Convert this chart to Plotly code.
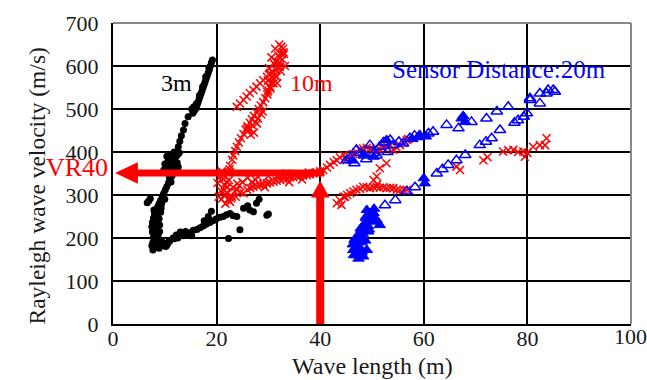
import plotly.graph_objects as go

# ---- data ----
# Sensor distance 3 m (black filled circles)
x3 = [19.2, 19.0, 18.8, 18.6, 18.4, 18.2, 18.0, 17.8, 17.6, 17.4, 17.2, 17.0, 16.8, 16.6,
      16.4, 16.2, 16.0, 15.8, 15.6, 15.4, 15.2, 18.5, 17.9, 17.3, 16.7, 16.1, 15.6,
      14.5, 13.9, 13.6, 13.2, 12.9, 12.6,
      12.8, 12.5, 12.2, 11.9, 11.6, 11.3, 11.0, 10.7, 10.4, 10.1, 9.8, 12.4, 12.0, 11.6,
      11.2, 10.8, 10.4, 10.0, 11.8, 11.4, 11.0, 10.6, 12.6, 12.2,
      11.0, 10.7, 10.4, 10.1, 9.8, 9.5, 9.2, 8.9, 8.6, 8.3, 8.0, 7.8, 7.6, 7.5, 7.6, 7.8,
      7.7, 7.5, 7.7, 8.0, 8.4, 10.0, 9.7, 9.4, 9.2, 8.9, 9.0, 8.6, 7.2, 6.9, 6.6, 8.2,
      8.5, 8.3, 8.0, 8.7, 9.0, 8.8, 8.1, 9.3, 7.9, 8.4, 11.4, 11.2, 10.9,
      8.4, 8.9, 9.4, 10.0, 10.6, 11.0, 11.6, 12.2, 12.9, 13.5, 14.2, 14.9, 15.5, 16.2, 16.8,
      17.4, 18.0, 18.7, 19.3, 19.9, 20.7, 21.3, 21.9, 22.6, 23.2, 23.9, 9.6, 10.4, 11.8, 13.0,
      17.6, 18.4, 19.0, 8.8, 9.2, 10.2, 10.8, 12.5, 14.0, 15.2,
      25.2, 26.4, 27.1, 27.7, 29.7, 30.0, 24.5, 22.3, 26.0, 28.2]
y3 = [614, 608, 600, 592, 585, 578, 571, 564, 557, 550, 543, 536, 529, 522,
      515, 508, 502, 498, 494, 490, 500, 596, 575, 552, 532, 512, 505,
      482, 466, 451, 438, 425, 412,
      398, 394, 390, 386, 382, 378, 374, 370, 366, 362, 358, 375, 368, 361,
      355, 382, 390, 372, 400, 395, 385, 378, 365, 358,
      335, 328, 320, 312, 304, 296, 288, 280, 272, 264, 256, 246, 236, 226, 214, 202,
      190, 182, 172, 178, 185, 290, 300, 280, 260, 245, 230, 250, 292, 286, 282, 240,
      225, 210, 198, 205, 215, 195, 186, 270, 265, 190, 345, 330, 340,
      180, 176, 182, 186, 188, 194, 200, 207, 210, 205, 209, 212, 218, 220, 224,
      228, 232, 236, 240, 244, 248, 250, 254, 257, 252, 250, 190, 184, 198, 214,
      240, 250, 262, 178, 188, 180, 192, 200, 215, 205,
      269, 265, 261, 281, 253, 256, 219, 199, 275, 290]

# Sensor distance 10 m (red crosses)
x10 = [21.5, 21.9, 22.3, 22.6, 23.0, 23.2, 23.6, 23.9, 24.3, 24.7, 25.2, 25.6, 26.0, 26.4,
       26.8, 27.2, 27.7, 28.1, 28.5, 29.0, 29.4, 29.8, 30.0, 30.3, 30.6, 30.9, 31.2, 31.5,
       31.8, 32.0, 32.3, 32.6, 32.8, 31.0, 31.6, 32.2, 30.4, 30.8, 31.4, 32.5, 29.9, 31.9,
       32.9, 30.1, 31.1, 30.6, 31.3, 32.1, 32.7, 33.2, 30.2, 31.7, 32.4, 33.0, 29.8,
       26.2, 26.9, 27.5, 28.0, 27.2, 26.6, 28.6, 25.9, 27.8, 28.9,
       23.9, 24.5, 25.2, 25.8, 26.4, 27.1, 27.7, 28.4, 29.0, 29.7, 30.3,
       20.2, 20.5, 21.0, 21.4, 21.8, 22.2, 22.6, 23.0, 20.8, 21.6, 22.4, 23.2, 21.2, 22.0,
       22.8, 20.4, 21.7, 23.5, 24.0, 22.5, 20.9, 21.3, 22.1, 23.7,
       23.9, 24.6, 25.2, 25.9, 26.5, 27.1, 27.8, 28.4, 29.0, 29.7, 30.3, 31.0, 31.6, 32.3,
       32.9, 33.6, 34.2, 34.8, 35.5, 36.1, 36.7, 37.4, 38.0, 38.7, 39.3, 40.0, 40.6, 41.3,
       41.9, 42.6, 43.2, 43.8, 44.5, 26.0, 28.0, 30.0, 33.5, 36.5, 25.0, 27.5, 35.0,
       24.4, 26.8, 29.3, 31.8, 34.0, 37.8,
       45.1, 45.8, 46.4, 47.0, 47.7, 48.3, 49.0, 49.6, 50.3, 50.9, 51.5, 52.2, 52.8, 53.5,
       54.1, 54.8, 55.4, 56.1, 56.7, 57.0, 51.5, 52.8, 50.9, 50.3, 43.8, 44.8,
       43.2, 44.1, 44.5, 45.2, 45.8, 46.4, 47.0, 47.7, 48.3, 49.0, 49.6, 50.3, 50.9, 51.5,
       52.2, 52.8, 53.5, 54.1, 54.8, 55.4, 56.1, 56.7, 51.0,
       66.3, 67.0, 71.5, 72.3, 75.3, 76.3, 77.3, 78.2, 79.2, 79.5, 80.0, 81.1, 82.4, 83.4, 83.7]
y10 = [300, 330, 352, 368, 382, 392, 402, 412, 422, 432, 442, 452, 460, 468,
       476, 484, 492, 500, 508, 516, 525, 534, 543, 552, 561, 570, 580, 590,
       600, 608, 618, 628, 640, 560, 575, 598, 548, 585, 612, 645, 566, 625,
       632, 595, 605, 620, 640, 650, 615, 600, 580, 560, 588, 628, 540,
       450, 462, 470, 478, 445, 440, 488, 456, 466, 494,
       505, 513, 521, 529, 537, 544, 552, 560, 567, 575, 583,
       328, 340, 355, 312, 300, 290, 284, 296, 310, 322, 335, 318, 346, 305,
       292, 296, 280, 308, 326, 360, 290, 338, 318, 296,
       312, 306, 304, 312, 316, 319, 321, 323, 325, 327, 329, 331, 333, 335,
       337, 339, 341, 342, 343, 344, 345, 346, 348, 350, 352, 355, 358, 364,
       370, 376, 381, 387, 393, 340, 342, 344, 350, 336, 330, 336, 348,
       322, 330, 318, 345, 330, 352,
       381, 389, 395, 400, 405, 408, 410, 408, 405, 404, 406, 410, 414, 416,
       405, 410, 416, 422, 428, 430, 362, 374, 343, 335, 288, 296,
       281, 277, 296, 300, 304, 308, 312, 314, 319, 318, 316, 318, 319, 317,
       318, 316, 317, 316, 312, 311, 312, 312, 325,
       366, 358, 381, 388, 401, 404, 405, 400, 401, 389, 398, 412, 416, 416, 432]

# Sensor distance 20 m (blue open triangles)
x20o = [52.5, 54.5, 56.7, 58.3, 62.5, 63.6, 64.7, 66.3, 68.0, 70.8, 72.0, 73.1, 74.7,
        77.5, 78.2, 79.3, 79.9, 80.5, 82.4, 83.7, 85.0,
        45.1, 45.8, 47.0, 47.7, 48.5, 49.6, 50.3, 51.5, 52.2, 53.5, 54.1, 55.2, 57.3,
        59.0, 60.9, 61.8, 64.4, 66.7, 69.2, 72.1, 74.1, 76.3, 80.5, 82.4, 84.0, 85.3,
        46.6, 48.9, 50.9, 53.0, 56.0, 58.2]
y20o = [276, 288, 308, 318, 350, 360, 370, 381, 393, 416, 424, 432, 451,
        468, 474, 482, 490, 521, 513, 536, 544,
        381, 386, 405, 398, 392, 416, 397, 412, 422, 428, 416, 424, 432,
        435, 443, 447, 463, 455, 470, 478, 494, 505, 525, 536, 544, 540,
        374, 383, 392, 400, 420, 438]
# Sensor distance 20 m (blue filled triangles)
x20f = [49.0, 49.9, 50.9, 48.6, 49.3, 48.0, 46.7, 46.4, 47.0, 48.3, 49.0, 50.3, 51.5,
        47.5, 48.0, 46.9, 47.8, 48.8, 47.2, 46.8, 49.6, 48.2, 50.4, 49.5, 48.9, 50.0,
        48.5, 49.2, 47.6, 46.6, 47.3, 48.0, 48.7, 46.3, 47.0, 47.9, 49.4, 47.4, 46.5,
        60.2, 60.0, 67.3, 68.0, 67.6, 50.3, 52.8, 57.8, 59.2, 60.4, 46.2, 48.4]
y20f = [265, 253, 242, 234, 215, 203, 188, 172, 160, 157, 172, 258, 230,
        180, 168, 198, 222, 246, 165, 178, 242, 210, 268, 258, 250, 238,
        226, 228, 212, 196, 205, 190, 194, 185, 175, 165, 220, 152, 160,
        327, 339, 478, 470, 484, 389, 428, 430, 440, 436, 380, 394]

x_ticks = [0, 20, 40, 60, 80, 100]
y_ticks = [0, 100, 200, 300, 400, 500, 600, 700]

# Reference arrow (VR40: wave length 40 m)
VR_X = 40
VR_Y = 351

FONT = "Liberation Serif"
TXT = "#1a1a1a"

fig = go.Figure()
fig.add_trace(go.Scatter(x=x3, y=y3, mode="markers",
                         marker=dict(symbol="circle", size=7, color="black"),
                         showlegend=False))
fig.add_trace(go.Scatter(x=x10, y=y10, mode="markers",
                         marker=dict(symbol="x-thin-open", size=8, color="red",
                                     line=dict(width=1.5, color="red")),
                         showlegend=False))
fig.add_trace(go.Scatter(x=x20o, y=y20o, mode="markers",
                         marker=dict(symbol="triangle-up-open", size=10, color="blue",
                                     line=dict(width=1.5, color="blue")),
                         showlegend=False))
fig.add_trace(go.Scatter(x=x20f, y=y20f, mode="markers",
                         marker=dict(symbol="triangle-up", size=10, color="blue",
                                     line=dict(width=1, color="blue")),
                         showlegend=False))

shapes = []
shapes.append(dict(type="line", xref="paper", yref="paper", x0=0, x1=1, y0=1, y1=1,
                   line=dict(color="#888888", width=2), layer="above"))
shapes.append(dict(type="line", xref="paper", yref="paper", x0=1, x1=1, y0=0, y1=1,
                   line=dict(color="#888888", width=2), layer="above"))
shapes.append(dict(type="line", x0=VR_X + 0.8, x1=4.4, y0=VR_Y, y1=VR_Y,
                   line=dict(color="red", width=7), layer="above"))
shapes.append(dict(type="path",
                   path=f"M 0.4 {VR_Y} L 4.8 {VR_Y + 25} L 4.8 {VR_Y - 25} Z",
                   fillcolor="red", line=dict(color="red", width=0), layer="above"))
shapes.append(dict(type="line", x0=VR_X, x1=VR_X, y0=0, y1=300,
                   line=dict(color="red", width=8), layer="above"))
shapes.append(dict(type="path",
                   path=f"M {VR_X} 333 L {VR_X - 1.8} 294 L {VR_X + 1.8} 294 Z",
                   fillcolor="red", line=dict(color="red", width=0), layer="above"))

annotations = [
    dict(x=12.2, y=560, text="3m", showarrow=False, font=dict(family=FONT, size=24, color="black")),
    dict(x=38.4, y=560, text="10m", showarrow=False, font=dict(family=FONT, size=24, color="red")),
    dict(x=74.6, y=592, text="Sensor Distance:20m", showarrow=False,
         font=dict(family=FONT, size=25, color="blue")),
    dict(x=-0.005, xref="paper", xanchor="right", y=365, text="VR40", showarrow=False,
         font=dict(family=FONT, size=26, color="red")),
    # axis titles
    dict(x=0.5, xref="paper", y=-0.14, yref="paper", yanchor="middle", text="Wave length (m)",
         showarrow=False, font=dict(family=FONT, size=24, color=TXT)),
    dict(x=-0.175, xref="paper", y=0.458, yref="paper", text="Rayleigh wave velocity (m/s)",
         textangle=-90, showarrow=False, font=dict(family=FONT, size=23.5, color=TXT)),
    # rightmost x tick label (cut by the page edge in the reference)
    dict(x=0.966, xref="paper", xanchor="left", y=-0.043, yref="paper", yanchor="middle",
         text=str(x_ticks[-1]), showarrow=False, borderpad=0,
         font=dict(family=FONT, size=22, color=TXT)),
]

fig.update_layout(
    width=647, height=380,
    margin=dict(l=113, r=16, t=23, b=56),
    paper_bgcolor="white", plot_bgcolor="white",
    font=dict(family=FONT, size=22, color=TXT),
    shapes=shapes, annotations=annotations, showlegend=False,
    xaxis=dict(range=[0, 100], tickvals=x_ticks[:-1], showgrid=True, gridcolor="black",
               gridwidth=1.5, showline=True, linecolor="black", linewidth=2, zeroline=False,
               ticks="", ticklabelstandoff=-6, automargin=False,
               tickfont=dict(family=FONT, size=22, color=TXT)),
    yaxis=dict(range=[0, 700], tickvals=y_ticks, showgrid=True, gridcolor="black",
               gridwidth=1.5, showline=True, linecolor="black", linewidth=2, zeroline=False,
               ticks="", ticklabelstandoff=8, automargin=False,
               tickfont=dict(family=FONT, size=22, color=TXT)),
)

fig.write_html("out.html")
